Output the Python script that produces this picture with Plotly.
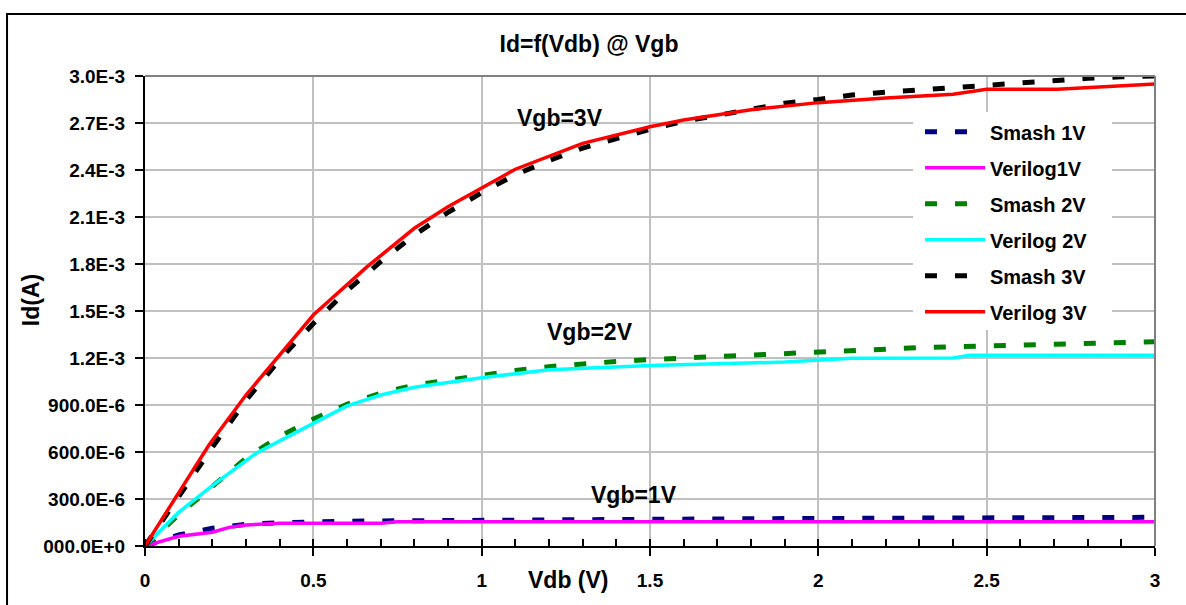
import plotly.graph_objects as go

# Id vs Vdb, currents in uA
VDB_SMASH = [0.0, 0.1, 0.2, 0.3, 0.4, 0.5, 0.6, 0.7, 0.8, 0.9, 1.0,
             1.1, 1.2, 1.3, 1.4, 1.5, 1.6, 1.7, 1.8, 1.9, 2.0,
             2.1, 2.2, 2.3, 2.4, 2.5, 2.6, 2.7, 2.8, 2.9, 3.0]

SMASH_1V = [0, 70, 113, 138, 148, 155, 158, 160, 162, 164, 166,
            167, 168, 169, 170, 171, 172, 173, 174, 175, 176,
            177, 178, 178, 179, 180, 180, 181, 182, 182, 183]
SMASH_2V = [0, 200, 380, 560, 700, 810, 905, 975, 1028, 1060, 1095,
            1120, 1145, 1165, 1178, 1190, 1200, 1210, 1222, 1233, 1242,
            1252, 1260, 1266, 1272, 1278, 1283, 1287, 1292, 1298, 1304]
SMASH_3V = [0, 320, 630, 930, 1190, 1420, 1630, 1815, 1985, 2130, 2255,
            2370, 2460, 2540, 2600, 2660, 2710, 2750, 2790, 2826, 2850,
            2879, 2896, 2912, 2928, 2943, 2958, 2972, 2985, 2995, 3000]

VDB_VER_1V = [0.0, 0.1, 0.2, 0.25, 0.3, 0.4, 0.5, 0.7, 0.75, 1.0, 1.5, 2.0, 2.5, 3.0]
VERILOG_1V = [0, 62, 88, 119, 134, 145, 145, 145, 155, 155, 155, 155, 155, 155]

VDB_VER_2V = [0.0, 0.1, 0.2, 0.33, 0.5, 0.6, 0.7, 0.8, 1.0, 1.2, 1.5, 1.9, 2.1, 2.4, 2.45, 3.0]
VERILOG_2V = [0, 215, 385, 592, 783, 894, 964, 1013, 1074, 1125, 1152, 1174, 1198, 1200, 1217, 1217]

VDB_VER_3V = [0.0, 0.1, 0.19, 0.3, 0.35, 0.5, 0.66, 0.8, 0.9, 1.0, 1.1, 1.3, 1.5, 1.6,
              1.8, 2.0, 2.2, 2.4, 2.5, 2.71, 3.0]
VERILOG_3V = [0, 340, 645, 964, 1091, 1474, 1783, 2028, 2166, 2283, 2405, 2570, 2676, 2719,
              2785, 2830, 2860, 2883, 2915, 2915, 2949]

Y_TICKS = [0, 300, 600, 900, 1200, 1500, 1800, 2100, 2400, 2700, 3000]
Y_LABELS = ["000.0E+0", "300.0E-6", "600.0E-6", "900.0E-6", "1.2E-3", "1.5E-3",
            "1.8E-3", "2.1E-3", "2.4E-3", "2.7E-3", "3.0E-3"]
X_TICKS = [0, 0.5, 1, 1.5, 2, 2.5, 3]
X_MINOR_STEP = 0.1

FONT = "Arial, 'Liberation Sans', sans-serif"
DASH = "12px,18px"

def ua(vals):
    return [v * 1e-6 for v in vals]

fig = go.Figure()
series = [
    ("Smash 1V", VDB_SMASH, SMASH_1V, "#000080", 5, DASH),
    ("Verilog1V", VDB_VER_1V, VERILOG_1V, "#ff00ff", 3.5, "solid"),
    ("Smash 2V", VDB_SMASH, SMASH_2V, "#008000", 5, DASH),
    ("Verilog 2V", VDB_VER_2V, VERILOG_2V, "#00ffff", 3.5, "solid"),
    ("Smash 3V", VDB_SMASH, SMASH_3V, "#000000", 5, DASH),
    ("Verilog 3V", VDB_VER_3V, VERILOG_3V, "#ff0000", 3.5, "solid"),
]
for i, (name, x, y, color, w, dash) in enumerate(series):
    fig.add_trace(go.Scatter(
        x=x, y=ua(y), mode="lines", name=name, legendgroup=f"g{i}",
        line=dict(color=color, width=w, dash=dash),
    ))

# gray frame on top/right of the plot area, black outer border
fig.add_shape(type="line", xref="paper", yref="paper", x0=0, x1=1, y0=1, y1=1,
              line=dict(color="#808080", width=2))
fig.add_shape(type="line", xref="paper", yref="paper", x0=1, x1=1, y0=0, y1=1,
              line=dict(color="#808080", width=2))
fig.add_shape(type="rect", xref="paper", yref="paper", x0=-0.1366, x1=1.05,
              y0=-0.15, y1=1.1319, line=dict(color="black", width=2))
# white patch behind the legend (hides the grid like the original box)
fig.add_shape(type="rect", xref="paper", yref="paper", layer="above",
              x0=(913 - 145) / 1010, x1=(1112 - 145) / 1010,
              y0=(546 - 330) / 470, y1=(546 - 112) / 470,
              fillcolor="white", line=dict(width=0))

for txt, x, y in [("Vgb=3V", 1.233, 2732e-6), ("Vgb=2V", 1.322, 1366e-6),
                  ("Vgb=1V", 1.452, 326e-6)]:
    fig.add_annotation(x=x, y=y, text=txt, showarrow=False,
                       font=dict(size=23, color="black", family=FONT, weight="bold"))

fig.add_annotation(xref="paper", yref="paper", x=(31 - 145) / 1010, y=0.523, text="Id(A)",
                   textangle=-90, showarrow=False, xanchor="center", yanchor="middle",
                   font=dict(size=23, family=FONT, weight="bold"))
fig.add_annotation(xref="paper", yref="paper", x=0.419, y=(546 - 580) / 470, text="Vdb (V)",
                   showarrow=False, xanchor="center", yanchor="middle",
                   font=dict(size=23, family=FONT, weight="bold"))

fig.update_layout(
    width=1186, height=605,
    paper_bgcolor="white", plot_bgcolor="white",
    font=dict(family=FONT, size=19, color="black", weight="bold"),
    margin=dict(l=145, r=31, t=76, b=59),
    title=dict(text="Id=f(Vdb) @ Vgb", x=589 / 1186, xanchor="center",
               y=1 - 44 / 605, yanchor="middle",
               font=dict(size=23, weight="bold")),
    legend=dict(x=(920 - 145) / 1010, y=0.923, xanchor="left", yanchor="top",
                bgcolor="rgba(0,0,0,0)", borderwidth=0, tracegroupgap=7,
                itemwidth=60, font=dict(size=20, weight="bold")),
)
fig.update_xaxes(range=[X_TICKS[0], X_TICKS[-1]], tickmode="linear",
                 tick0=X_TICKS[0], dtick=X_TICKS[1] - X_TICKS[0],
                 showgrid=True, gridcolor="#c0c0c0", gridwidth=1.5,
                 showline=True, linecolor="black", linewidth=2,
                 ticks="outside", ticklen=8, tickcolor="black", tickwidth=2,
                 ticklabelstandoff=8, zeroline=False,
                 minor=dict(dtick=X_MINOR_STEP, ticks="inside",
                            ticklen=7, tickcolor="black", tickwidth=2, showgrid=False))
fig.update_yaxes(range=[0, 3e-3], tickvals=ua(Y_TICKS), ticktext=Y_LABELS,
                 showgrid=True, gridcolor="#c0c0c0", gridwidth=1.5,
                 showline=True, linecolor="black", linewidth=2,
                 ticks="outside", ticklen=8, tickcolor="black", tickwidth=2,
                 ticklabelstandoff=6, zeroline=False)

# page body has a default margin; drop it so the figure sits at the window origin
fig.write_html("out.html", config={"displayModeBar": False},
               post_script="document.body.style.margin='0';")
